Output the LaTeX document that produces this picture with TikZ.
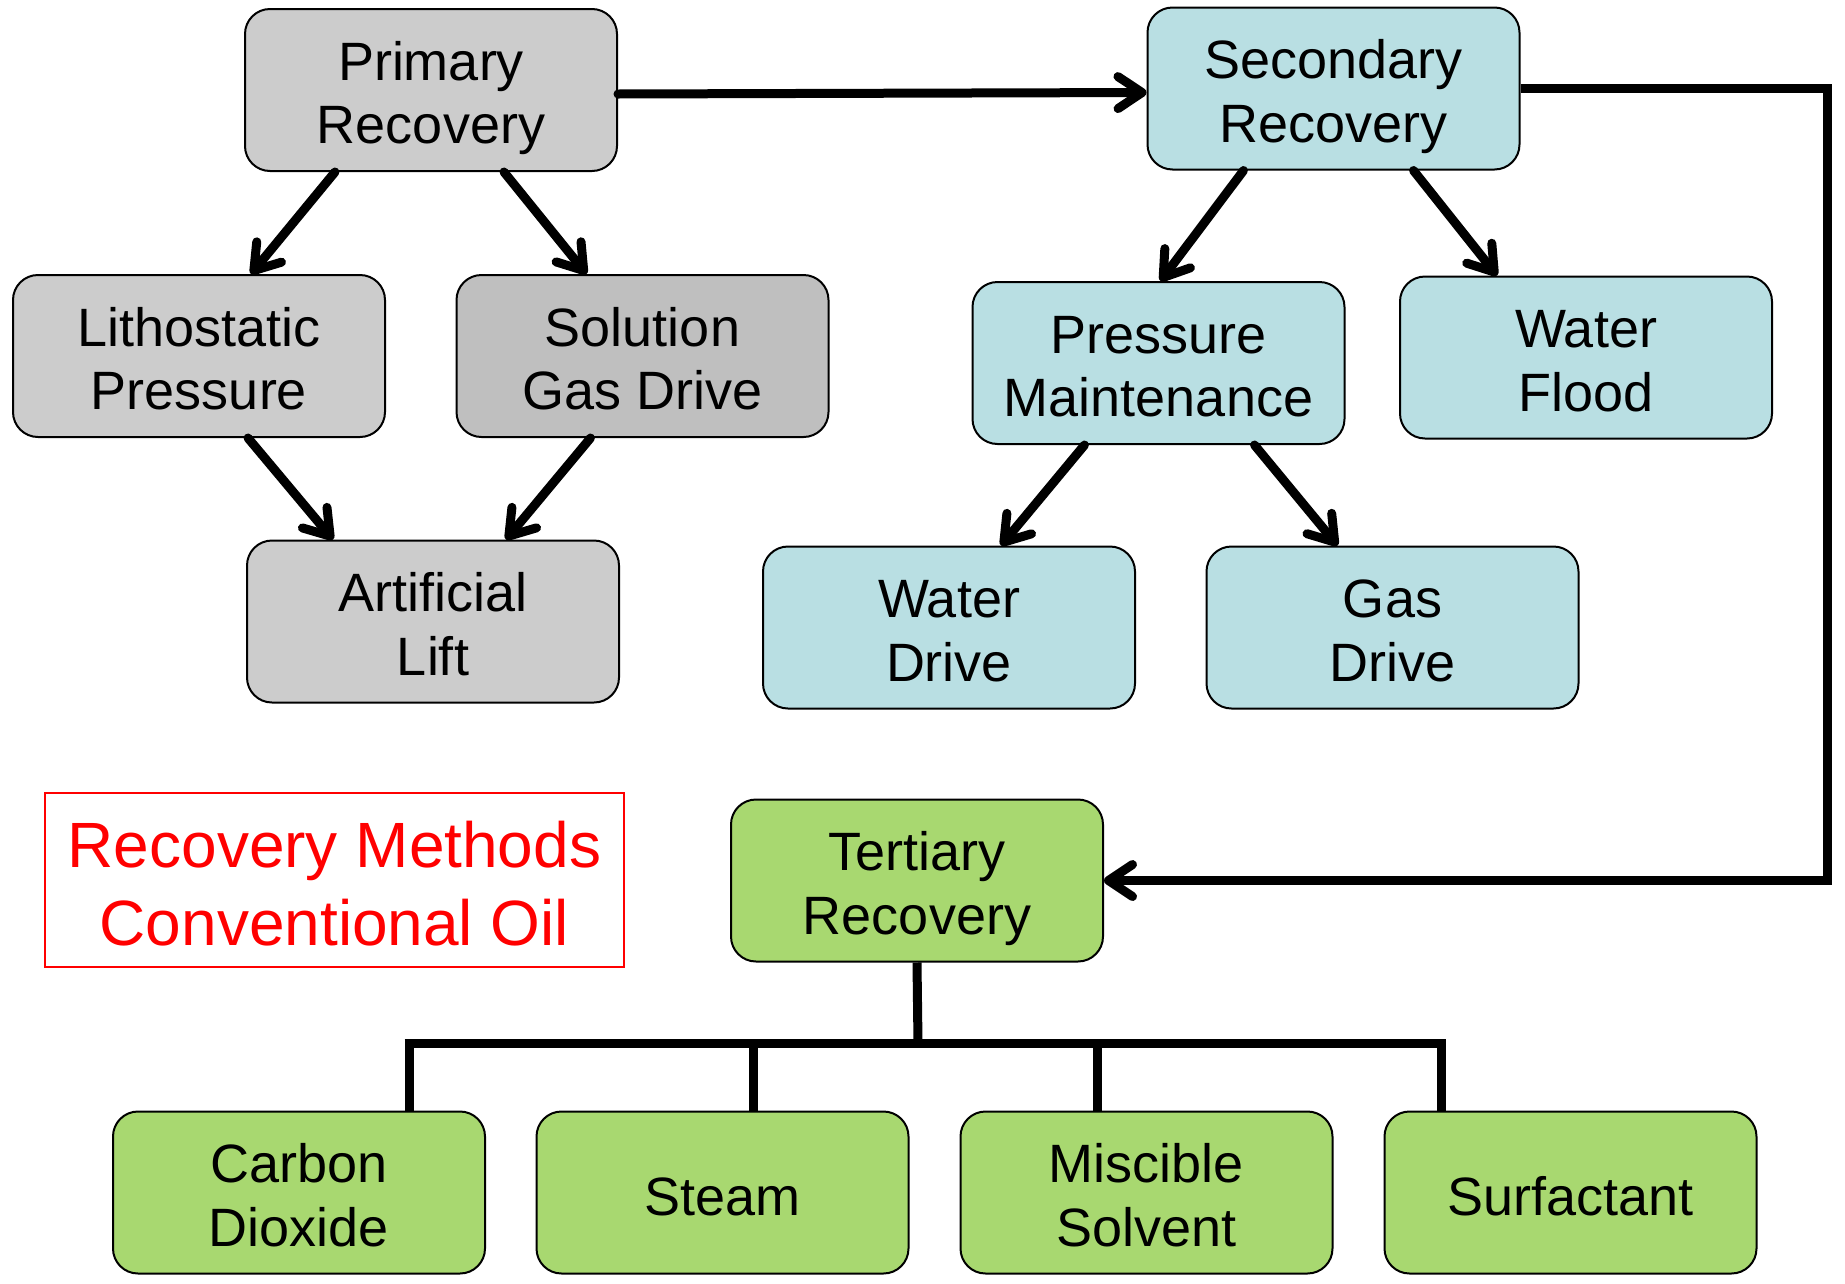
\documentclass[tikz,border=0pt]{standalone}
\usepackage{fontspec}
\setmainfont{Liberation Sans}
\usetikzlibrary{arrows.meta}
\definecolor{grayA}{HTML}{CCCCCC}
\definecolor{grayB}{HTML}{BFBFBF}
\definecolor{blueA}{HTML}{B9DFE3}
\definecolor{greenA}{HTML}{A8D870}
\tikzset{
  box/.style={draw=black, line width=2pt, rounded corners=25pt, minimum width=372pt, minimum height=162pt, inner sep=0pt, align=center, text height=107.5pt, text depth=0pt, font=\fontsize{54}{63.5}\selectfont},
  onebox/.style={box, text height=46pt},
  arr/.style={line width=9pt, line cap=round, -{Straight Barb[length=24pt,width=32pt,round]}},
  wire/.style={line width=9pt},
}
\begin{document}
\begin{tikzpicture}[x=1pt,y=-1pt]
\useasboundingbox (0,0) rectangle (1845,1283);
\node[box, fill=grayA] (P) at (431,90) {Primary\\Recovery};
\node[box, fill=blueA] (S) at (1333.5,88.5) {Secondary\\Recovery};
\node[box, fill=grayA] (L) at (199,356) {Lithostatic\\Pressure};
\node[box, fill=grayB] (G) at (642.5,356) {Solution\\Gas Drive};
\node[box, fill=grayA] (A) at (433,621.5) {Artificial\\Lift};
\node[box, fill=blueA] (PM) at (1158.5,363) {Pressure\\Maintenance};
\node[box, fill=blueA] (WF) at (1586,357.5) {Water\\Flood};
\node[box, fill=blueA] (WD) at (949,627.5) {Water\\Drive};
\node[box, fill=blueA] (GD) at (1392.5,627.5) {Gas\\Drive};
\node[box, fill=greenA] (T) at (917,880.5) {Tertiary\\Recovery};
\node[box, fill=greenA] (C1) at (299,1192.5) {Carbon\\Dioxide};
\node[onebox, fill=greenA] (C2) at (722.5,1192.5) {Steam};
\node[box, fill=greenA] (C3) at (1146.5,1192.5) {Miscible\\Solvent};
\node[onebox, fill=greenA] (C4) at (1570.5,1192.5) {Surfactant};
\node[draw=red, line width=2pt, minimum width=579pt, minimum height=174pt, inner sep=0pt, align=center, text=red, text height=130pt, text depth=0pt, font=\fontsize{64}{78}\selectfont] (title) at (334.5,880) {Recovery Methods\\Conventional Oil};
% arrows
\draw[arr] ([yshift=-4pt]P.east) -- ([yshift=-4pt]S.west);
\draw[arr] ([xshift=-96pt]P.south) -- ([xshift=52pt]L.north);
\draw[arr] ([xshift=73pt]P.south) -- ([xshift=-56pt]G.north);
\draw[arr] ([xshift=49pt]L.south) -- ([xshift=-100pt]A.north);
\draw[arr] ([xshift=-52pt]G.south) -- ([xshift=73pt]A.north);
\draw[arr] ([xshift=-90pt]S.south) -- ([xshift=2pt]PM.north);
\draw[arr] ([xshift=80pt]S.south) -- ([xshift=-89pt]WF.north);
\draw[arr] ([xshift=-74pt]PM.south) -- ([xshift=52pt]WD.north);
\draw[arr] ([xshift=96pt]PM.south) -- ([xshift=-55pt]GD.north);
\coordinate (r1) at (1827,88.5);
\coordinate (r2) at (1827,880.5);
\draw[wire] (S.east) -- ([xshift=4.5pt]r1);
\draw[wire] (r1) -- (r2);
\draw[arr, line cap=butt] ([xshift=4.5pt]r2) -- (T.east);
% tertiary bus
\coordinate (bj) at (918,1043);
\coordinate (bl) at (409,1043);
\coordinate (br) at (1441,1043);
\draw[wire] (T.south) -- (bj);
\draw[wire] ([xshift=-4.5pt]bl) -- ([xshift=4.5pt]br);
\draw[wire] (bl) -- (C1.north -| bl);
\draw[wire] (C2.north -| 753,0) -- (753,1043);
\draw[wire] (C3.north -| 1097,0) -- (1097,1043);
\draw[wire] (br) -- (C4.north -| br);
\end{tikzpicture}
\end{document}
